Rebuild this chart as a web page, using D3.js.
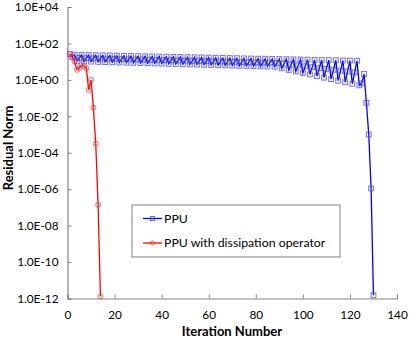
<!DOCTYPE html>
<html><head><meta charset="utf-8">
<script src="https://cdn.jsdelivr.net/npm/d3@7"></script>
<style>
html,body{margin:0;padding:0;background:#fff;}
svg text{font-family:Lato,"Open Sans",sans-serif;fill:#000;}
</style></head>
<body><svg id="c" width="409" height="340"></svg>
<script>
// Data
const ppuIter = d3.range(1, 131);
const ppuValues = [
  26, 19, 24,
  10.5, 15.9, 23.5,  10.2, 15.4, 23.1,  10.0, 15.1, 22.6,  9.7, 14.7, 22.2,
  9.5, 14.5, 21.8,   9.3, 14.2, 21.4,   9.0, 13.8, 21.0,   8.8, 13.5, 20.6,
  8.6, 13.2, 20.2,   8.4, 13.0, 19.8,   8.2, 12.7, 19.5,   8.0, 12.4, 19.1,
  7.8, 12.1, 18.7,   7.6, 11.9, 18.4,   7.4, 11.6, 18.0,   7.2, 11.3, 17.7,
  7.05, 11.1, 17.4,  6.9, 10.9, 17.0,   6.7, 10.6, 16.7,   6.55, 10.4, 16.4,
  6.4, 10.2, 16.1,   6.2, 9.9, 15.8,    6.1, 9.75, 15.5,   5.9, 9.5, 15.2,
  5.8, 9.3, 14.9,    5.65, 9.1, 14.6,   5.5, 8.9, 14.4,    5.4, 8.75, 14.1,
  5.25, 8.5, 13.8,   4.3, 7.7, 13.6,    3.5, 6.8, 13.3,    2.9, 6.2, 13.1,
  2.4, 5.6, 12.8,    2.0, 5.0, 12.6,    1.6, 4.5, 12.3,    1.33, 4.0, 12.1,
  1.1, 3.6, 11.9,    0.9, 3.2, 11.6,    0.74, 2.9, 11.4,   0.61, 2.6, 11.2,
  0.5, 0.65, 2.1,
  0.055, 1.0e-3, 1.1e-6, 1.5e-12
];
const dissIter = d3.range(1, 15);
const dissValues = [27, 17.5, 10, 3.6, 4.5, 6.6, 5.8, 4.4, 0.28, 1.0, 0.03, 3.2e-4, 1.4e-7, 1.3e-12];
const xTicks = [0, 20, 40, 60, 80, 100, 120, 140];
const yTicks = [1e4, 1e2, 1e0, 1e-2, 1e-4, 1e-6, 1e-8, 1e-10, 1e-12];
const yTickLabels = ["1.0E+04","1.0E+02","1.0E+00","1.0E-02","1.0E-04","1.0E-06","1.0E-08","1.0E-10","1.0E-12"];
const seriesNames = ["PPU", "PPU with dissipation operator"];

const svg = d3.select("#c");
const L = 67.5, R = 397, T = 7, B = 298.5;
const x = d3.scaleLinear().domain([0, 140]).range([L, R]);
const y = d3.scaleLog().domain([1e-12, 1e4]).range([B, T]);
const axisCol = "#868686";

// axes
const xAxis = svg.append("g").attr("transform", `translate(0,${B})`)
  .call(d3.axisBottom(x).tickValues(xTicks).tickSize(-4).tickPadding(12).tickFormat(d3.format("d")));
const yAxis = svg.append("g").attr("transform", `translate(${L},0)`)
  .call(d3.axisLeft(y).tickValues(yTicks).tickSize(-4).tickPadding(9)
    .tickFormat((d, i) => yTickLabels[i]));
[xAxis, yAxis].forEach(g => {
  g.select(".domain").attr("stroke", axisCol).attr("stroke-width", 1.2);
  g.selectAll(".tick line").attr("stroke", axisCol).attr("stroke-width", 1);
  g.selectAll(".tick text").style("font-family", "Lato, 'Open Sans', sans-serif").style("font-size", "11.8px").attr("fill", "#000");
});

// series
function drawSeries(iters, vals, color, markerColor, shape) {
  const pts = iters.map((it, i) => [it, vals[i]]);
  const line = d3.line().x(d => x(d[0])).y(d => y(d[1]));
  svg.append("path").datum(pts).attr("d", line).attr("fill", "none")
    .attr("stroke", color).attr("stroke-width", 1.3);
  const g = svg.append("g");
  if (shape === "square") {
    g.selectAll("rect").data(pts).join("rect")
      .attr("x", d => x(d[0]) - 2.4).attr("y", d => y(d[1]) - 2.4)
      .attr("width", 4.8).attr("height", 4.8)
      .attr("fill", "none").attr("stroke", markerColor).attr("stroke-width", 1);
  } else {
    g.selectAll("circle").data(pts).join("circle")
      .attr("cx", d => x(d[0])).attr("cy", d => y(d[1])).attr("r", 2.5)
      .attr("fill", "none").attr("stroke", markerColor).attr("stroke-width", 1);
  }
}
drawSeries(ppuIter, ppuValues, "#0000ff", "rgba(60,60,255,0.75)", "square");
drawSeries(dissIter, dissValues, "#ff0000", "rgba(255,60,60,0.8)", "circle");

// axis titles
svg.append("text").attr("x", 232).attr("y", 336).attr("text-anchor", "middle")
  .style("font-size", "13px").style("font-weight", "bold").text("Iteration Number");
svg.append("text").attr("transform", "translate(13,148) rotate(-90)").attr("text-anchor", "middle")
  .style("font-size", "13px").style("font-weight", "bold").text("Residual Norm");

// legend
const lg = svg.append("g");
lg.append("rect").attr("x", 132).attr("y", 205).attr("width", 208).attr("height", 52)
  .attr("fill", "#fff").attr("stroke", "#808080").attr("stroke-width", 1);
const legendItems = [
  {name: seriesNames[0], color: "#0000ff", mc: "rgba(60,60,255,0.8)", shape: "square", yy: 218.5},
  {name: seriesNames[1], color: "#ff0000", mc: "rgba(255,60,60,0.8)", shape: "circle", yy: 243}
];
legendItems.forEach(it => {
  lg.append("line").attr("x1", 143).attr("x2", 162).attr("y1", it.yy).attr("y2", it.yy)
    .attr("stroke", it.color).attr("stroke-width", 1.3);
  if (it.shape === "square") {
    lg.append("rect").attr("x", 150.5).attr("y", it.yy - 2).attr("width", 4).attr("height", 4)
      .attr("fill", "none").attr("stroke", it.mc).attr("stroke-width", 1);
  } else {
    lg.append("circle").attr("cx", 152.5).attr("cy", it.yy).attr("r", 2)
      .attr("fill", "none").attr("stroke", it.mc).attr("stroke-width", 1);
  }
  lg.append("text").attr("x", 164).attr("y", it.yy + 4.3).style("font-size", "12.3px").text(it.name);
});
</script></body></html>
